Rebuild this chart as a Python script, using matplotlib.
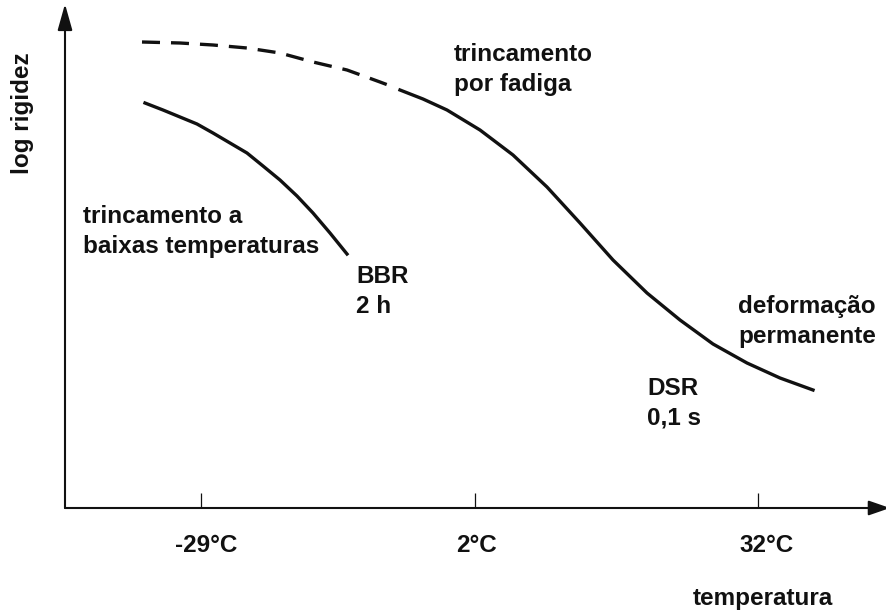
import matplotlib
matplotlib.use("Agg")
import matplotlib.pyplot as plt

# fonte tipo Arial em negrito (reduzida para imitar a versao estreita)
plt.rcParams['font.family'] = ['Liberation Sans', 'DejaVu Sans']

# esquema (coordenadas do desenho, y para baixo)
x_trac = [142, 180, 213, 247, 280, 313, 347, 380, 396]          # parte tracejada
y_trac = [42, 43, 45, 48, 53, 62, 70, 82, 88]
x_dsr = [400, 423, 447, 480, 513, 547, 580, 613, 647, 680, 713, 747, 780, 813]
y_dsr = [90, 99, 110, 130, 155, 187, 223, 260, 293, 320, 344, 363, 378, 390]
x_bbr = [145, 163, 180, 197, 213, 230, 247, 263, 280, 297, 313, 330, 347]
y_bbr = [103, 110, 117, 124, 133, 143, 153, 166, 180, 196, 213, 233, 254]

ticks_x = [201, 475, 758]
ticks_lbl_x = [206, 477, 767]
ticks_lbl = ['-29°C', '2°C', '32°C']

origem = (65, 508)

fig = plt.figure(figsize=(8.87, 6.13), dpi=100)
ax = fig.add_axes([0, 0, 1, 1])
ax.set_xlim(0, 887)
ax.set_ylim(613, 0)
ax.axis('off')

cor = '#111111'
tam = 17.5

# eixos com setas
ax.annotate('', xy=(origem[0], 4), xytext=origem, annotation_clip=False,
            arrowprops=dict(arrowstyle='-|>,head_length=1.6,head_width=0.45',
                            lw=1.5, color=cor, shrinkA=0, shrinkB=0, mutation_scale=10))
ax.annotate('', xy=(890, origem[1]), xytext=origem, annotation_clip=False,
            arrowprops=dict(arrowstyle='-|>,head_length=1.3,head_width=0.45',
                            lw=1.5, color=cor, shrinkA=0, shrinkB=0, mutation_scale=10))
ax.vlines(ticks_x, 493, origem[1], color=cor, lw=0.9)
for xt, lb in zip(ticks_lbl_x, ticks_lbl):
    ax.text(xt, 552, lb, ha='center', va='baseline', fontsize=tam, fontweight='bold', color=cor)

# curvas
ax.plot(x_trac, y_trac, color=cor, lw=2.4, dashes=(5.4, 3.3), solid_capstyle='butt')
ax.plot(x_dsr, y_dsr, color=cor, lw=2.4, solid_joinstyle='round')
ax.plot(x_bbr, y_bbr, color=cor, lw=2.4, solid_joinstyle='round')

# textos (posicao = linha de base da ultima linha)
kw = dict(fontsize=tam, fontweight='bold', color=cor, va='baseline', ha='left', linespacing=1.4)
ax.text(83, 253, 'trincamento a\nbaixas temperaturas', **kw)
ax.text(454, 91, 'trincamento\npor fadiga', **kw)
ax.text(356, 313, 'BBR\n2 h', **kw)
ax.text(647, 425, 'DSR\n0,1 s', **kw)
ax.text(738, 343, 'deformação\npermanente', **kw)
ax.text(763, 605, 'temperatura', fontsize=tam, fontweight='bold', color=cor,
        ha='center', va='baseline')
ax.text(23, 113, 'log rigidez', fontsize=tam, fontweight='bold', color=cor,
        ha='center', va='center', rotation=90)

fig.savefig('out.png', dpi=100)
